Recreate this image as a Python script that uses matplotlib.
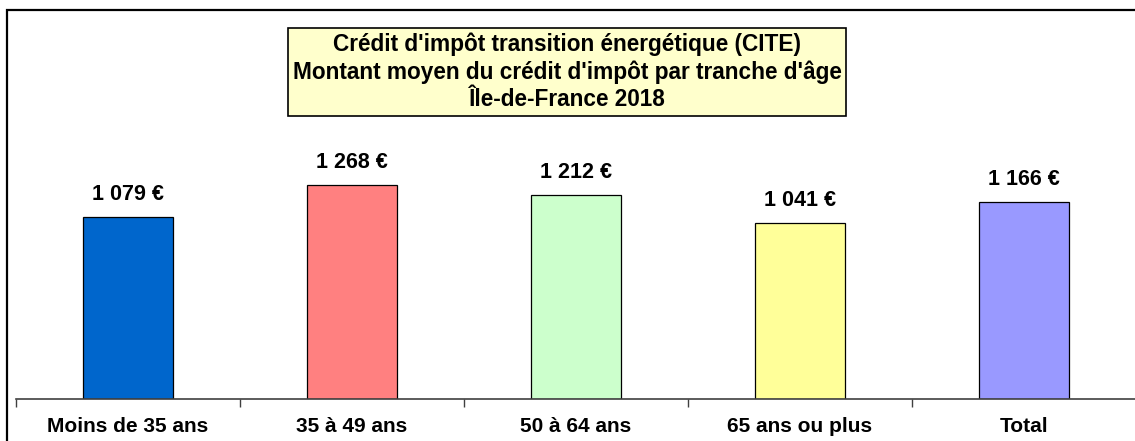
import numpy as np
import matplotlib
matplotlib.use('Agg')
import matplotlib.pyplot as plt
from matplotlib.patches import Rectangle

plt.rcParams['font.family'] = ['Liberation Sans', 'DejaVu Sans']

# données
categories = ['Moins de 35 ans', '35 à 49 ans', '50 à 64 ans', '65 ans ou plus', 'Total']
montants = [1079, 1268, 1212, 1041, 1166]
etiquettes = ['1 079 €', '1 268 €', '1 212 €', '1 041 €', '1 166 €']
couleurs = ['#0066CC', '#FF8080', '#CCFFCC', '#FFFF99', '#9999FF']
titre = "Crédit d'impôt transition énergétique (CITE)\nMontant moyen du crédit d'impôt par tranche d'âge\nÎle-de-France 2018"

W, H = 1135, 441
fig = plt.figure(figsize=(W / 100, H / 100), dpi=100)

# cadre extérieur (coupé à droite et en bas)
fig.patches.append(Rectangle((7 / W, -0.2), 1.5, (H - 10) / H + 0.2,
                             transform=fig.transFigure, fill=False,
                             edgecolor='black', linewidth=1.6))

ax = fig.add_axes([16 / W, (H - 399) / H, 1232 / W, 389 / H])
x = np.arange(len(categories))
ax.bar(x, montants, width=0.4, color=couleurs, edgecolor='black', linewidth=0.9)

for xi, v, lab in zip(x, montants, etiquettes):
    ax.annotate(lab, (xi, v), xytext=(0, 12), textcoords='offset pixels',
                ha='center', va='bottom', fontsize=15.5, fontweight='bold')

ax.set_xlim(-0.5, 5.0)
ax.set_ylim(0, 2306)
ax.patch.set_alpha(0)
for s in ['top', 'right', 'left']:
    ax.spines[s].set_visible(False)
ax.spines['bottom'].set_color('#404040')
ax.spines['bottom'].set_linewidth(1.2)
ax.set_yticks([])

# graduations entre les catégories, libellés au centre
ax.set_xticks(np.arange(-0.5, 5.0, 1.0))
ax.set_xticklabels([])
ax.tick_params(axis='x', which='major', direction='out', length=6, width=1, color='#404040')
ax.set_xticks(x, minor=True)
ax.set_xticklabels(categories, minor=True, fontsize=15, fontweight='bold')
ax.tick_params(axis='x', which='minor', length=0, pad=13)

# titre dans un cadre jaune
fig.text(567 / W, (H - 72) / H, titre, ha='center', va='center',
         fontsize=16.3, fontweight='bold', linespacing=1.22,
         bbox=dict(boxstyle='square,pad=0.22', facecolor='#FFFFCC',
                   edgecolor='black', linewidth=1.2))

fig.savefig('out.png', dpi=100)
